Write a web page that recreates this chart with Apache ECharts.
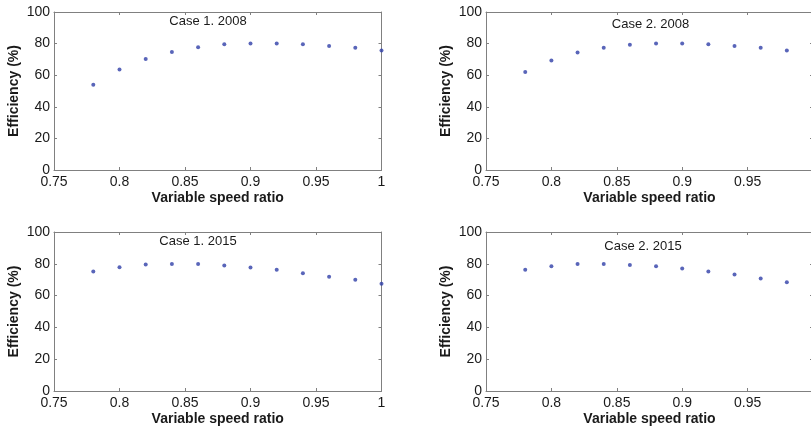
<!DOCTYPE html>
<html>
<head>
<meta charset="utf-8">
<script src="https://cdn.jsdelivr.net/npm/echarts@6/dist/echarts.min.js"></script>
<style>
html,body{margin:0;padding:0;background:#fff;}
#chart{width:811px;height:430px;}
</style>
</head>
<body>
<div id="chart"></div>
<script>
// Data
const ratio = [0.78, 0.80, 0.82, 0.84, 0.86, 0.88, 0.90, 0.92, 0.94, 0.96, 0.98, 1.00];
const case1_2008 = [53.9, 63.6, 70.3, 74.7, 77.7, 79.6, 80.0, 80.0, 79.6, 78.5, 77.3, 75.6];
const case2_2008 = [62.1, 69.3, 74.3, 77.3, 79.2, 80.0, 80.0, 79.6, 78.5, 77.3, 75.6];
const case1_2015 = [75.1, 77.8, 79.5, 79.9, 79.9, 78.9, 77.6, 76.2, 74.1, 71.8, 69.9, 67.4];
const case2_2015 = [76.2, 78.5, 79.9, 79.9, 79.3, 78.5, 77.0, 75.1, 73.2, 70.7, 68.4];
const panelTitles = ['Case 1. 2008', 'Case 2. 2008', 'Case 1. 2015', 'Case 2. 2015'];
const xAxisName = 'Variable speed ratio';
const yAxisName = 'Efficiency (%)';

const panelData = [case1_2008, case2_2008, case1_2015, case2_2015];

const FONT = '"Liberation Sans", Arial, sans-serif';
const AXIS_COLOR = '#808080';
const TEXT_COLOR = '#1a1a1a';
const MARK_COLOR = '#2f3fa8';

const grids = [
  {left: 54, top: 12, width: 327.5, height: 158, outerBoundsMode: 'none', containLabel: false},
  {left: 486, top: 12, width: 327, height: 158, outerBoundsMode: 'none', containLabel: false},
  {left: 54, top: 232, width: 327.5, height: 159, outerBoundsMode: 'none', containLabel: false},
  {left: 486, top: 232, width: 327, height: 159, outerBoundsMode: 'none', containLabel: false}
];
const showLastLabel = [true, false, true, false];
const titlePos = [[208, 21], [650.5, 24], [198, 241.5], [643, 246]];

const xAxes = [], yAxes = [], series = [], graphics = [];
grids.forEach((g, i) => {
  const lineStyle = {color: AXIS_COLOR, width: 1};
  xAxes.push({
    type: 'value', gridIndex: i, position: 'bottom', min: 0.75, max: 1, interval: 0.05,
    axisLine: {show: true, onZero: false, lineStyle},
    axisTick: {show: true, inside: true, length: 3, lineStyle},
    splitLine: {show: false},
    axisLabel: {color: TEXT_COLOR, fontFamily: FONT, fontSize: 14, margin: 5, showMinLabel: true, showMaxLabel: showLastLabel[i]},
    name: xAxisName, nameLocation: 'middle', nameGap: 21, nameMoveOverlap: false,
    nameTextStyle: {color: TEXT_COLOR, fontFamily: FONT, fontSize: 14, fontWeight: 'bold'}
  });
  xAxes.push({
    type: 'value', gridIndex: i, position: 'top', min: 0.75, max: 1, interval: 0.05,
    axisLine: {show: true, onZero: false, lineStyle},
    axisTick: {show: true, inside: true, length: 3, lineStyle},
    splitLine: {show: false}, axisLabel: {show: false}
  });
  yAxes.push({
    type: 'value', gridIndex: i, position: 'left', min: 0, max: 100, interval: 20,
    axisLine: {show: true, onZero: false, lineStyle},
    axisTick: {show: true, inside: true, length: 3, lineStyle},
    splitLine: {show: false},
    axisLabel: {color: TEXT_COLOR, fontFamily: FONT, fontSize: 14, margin: 4},
    name: yAxisName, nameLocation: 'middle', nameGap: 33, nameMoveOverlap: false,
    nameTextStyle: {color: TEXT_COLOR, fontFamily: FONT, fontSize: 14, fontWeight: 'bold'}
  });
  yAxes.push({
    type: 'value', gridIndex: i, position: 'right', min: 0, max: 100, interval: 20,
    axisLine: {show: true, onZero: false, lineStyle},
    axisTick: {show: true, inside: true, length: 3, lineStyle},
    splitLine: {show: false}, axisLabel: {show: false}
  });
  const vals = panelData[i];
  series.push({
    type: 'scatter', xAxisIndex: i * 2, yAxisIndex: i * 2,
    data: vals.map((v, k) => [ratio[k], v]),
    symbol: 'circle', symbolSize: 4,
    itemStyle: {color: MARK_COLOR},
    silent: true, animation: false
  });
  graphics.push({
    type: 'text', x: titlePos[i][0], y: titlePos[i][1],
    style: {text: panelTitles[i], fill: TEXT_COLOR, font: '13px ' + FONT, textAlign: 'center', textVerticalAlign: 'middle'}
  });
});

const chart = echarts.init(document.getElementById('chart'), null, {renderer: 'canvas'});
chart.setOption({
  animation: false,
  backgroundColor: '#ffffff',
  grid: grids,
  xAxis: xAxes,
  yAxis: yAxes,
  series: series,
  graphic: graphics
});
</script>
</body>
</html>
